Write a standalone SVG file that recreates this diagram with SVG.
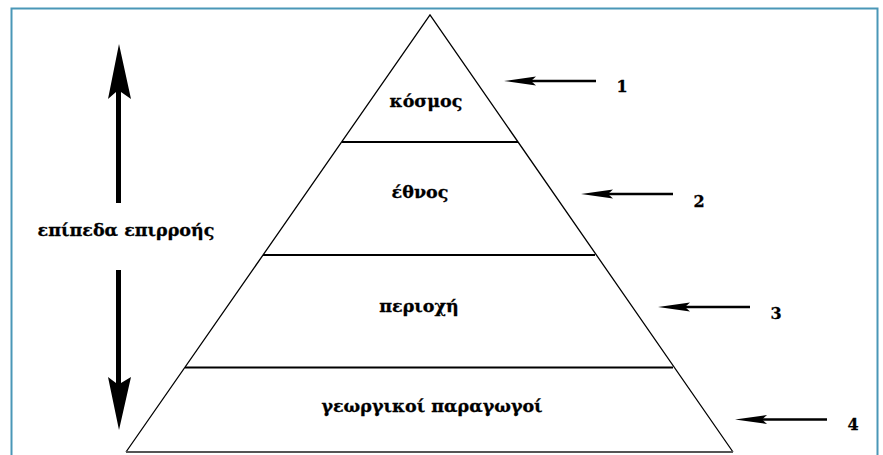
<svg xmlns="http://www.w3.org/2000/svg" width="883" height="455" viewBox="0 0 883 455">
<style>
.lbl{font-family:"DejaVu Serif","Liberation Serif",serif;font-weight:bold;font-size:17.5px;fill:#000;stroke:#000;stroke-width:0.3;text-anchor:middle}
.num{font-family:"DejaVu Serif","Liberation Serif",serif;font-weight:bold;font-size:16px;fill:#000;stroke:#000;stroke-width:0.3;text-anchor:middle}
.side{stroke:#000;stroke-width:1.3;fill:none}
.div{stroke:#000;stroke-width:2.2}
.harr{stroke:#000;stroke-width:2.5}
</style>
<rect x="11.5" y="8.5" width="866" height="470" fill="#fff" stroke="#4a97b7" stroke-width="2"/>
<g id="pyramid">
<path class="side" d="M126,452 L430,15 L733,452"/>
<line x1="126" y1="452" x2="733" y2="452" stroke="#555" stroke-width="2.2"/>
</g>
<g id="layer1">
<line class="div" x1="342" y1="142" x2="518" y2="142"/>
<text class="lbl" x="426" y="107">κόσμος</text>
</g>
<g id="layer2">
<line class="div" x1="263" y1="255" x2="595" y2="255"/>
<text class="lbl" x="420" y="198">έθνος</text>
</g>
<g id="layer3">
<line class="div" x1="185" y1="367.5" x2="673" y2="367.5"/>
<text class="lbl" x="419" y="312">περιοχή</text>
</g>
<g id="layer4">
<text class="lbl" x="432" y="412">γεωργικοί παραγωγοί</text>
</g>
<g id="influence">
<text class="lbl" x="126" y="236">επίπεδα επιρροής</text>
<path d="M116,203 L116,92 L108,99 L119,44 L131,99 L121,92 L121,203 Z" fill="#000"/>
<path d="M116,270 L116,383 L108,377 L119,430 L131,377 L121,383 L121,270 Z" fill="#000"/>
</g>
<g id="connectors">
<line class="harr" x1="596" y1="81" x2="530" y2="81"/>
<path d="M504,81 L536,76.5 L531,81 L536,85.5 Z"/>
<line class="harr" x1="673" y1="194" x2="607" y2="194"/>
<path d="M581,194 L613,189.5 L608,194 L613,198.5 Z"/>
<line class="harr" x1="750" y1="307" x2="684" y2="307"/>
<path d="M658,307 L690,302.5 L685,307 L690,311.5 Z"/>
<line class="harr" x1="827" y1="419.5" x2="761" y2="419.5"/>
<path d="M735,419.5 L767,415 L762,419.5 L767,424 Z"/>
</g>
<g id="numbers">
<text class="num" x="622" y="91.5">1</text>
<text class="num" x="699" y="206.5">2</text>
<text class="num" x="776" y="319">3</text>
<text class="num" x="853" y="430">4</text>
</g>
</svg>
